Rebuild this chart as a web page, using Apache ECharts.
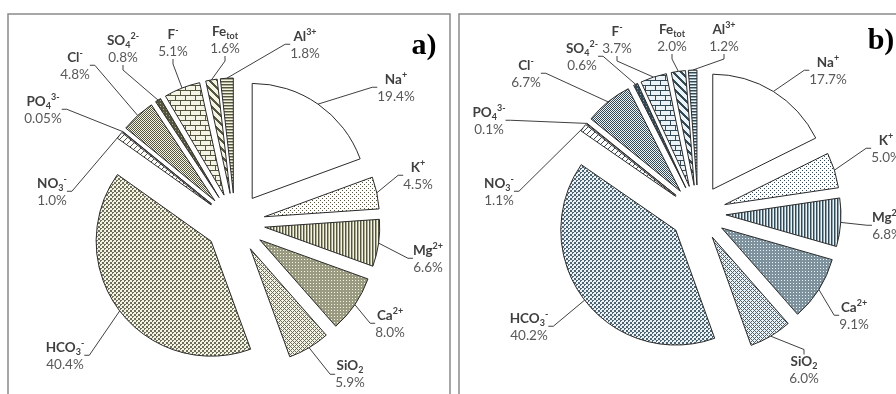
<!DOCTYPE html>
<html>
<head>
<meta charset="utf-8">
<script src="https://cdn.jsdelivr.net/npm/echarts@6/dist/echarts.min.js"></script>
<style>
  html, body { margin: 0; padding: 0; background: #ffffff; }
  #chart { width: 896px; height: 394px; }
</style>
</head>
<body>
<div id="chart"></div>
<script>
// Ionic composition (% of total dissolved load) for the two waters
const ions = ['Na⁺', 'K⁺', 'Mg²⁺', 'Ca²⁺', 'SiO₂', 'HCO₃⁻', 'NO₃⁻', 'PO₄³⁻', 'Cl⁻', 'SO₄²⁻', 'F⁻', 'Feₜₒₜ', 'Al³⁺'];
const sharesA = [19.4, 4.5, 6.6, 8.0, 5.9, 40.4, 1.0, 0.05, 4.8, 0.8, 5.1, 1.6, 1.8];
const sharesB = [17.7, 5.0, 6.8, 9.1, 6.0, 40.2, 1.1, 0.1, 6.7, 0.6, 3.7, 2.0, 1.2];
const panelTags = ['a)', 'b)'];

// Fill texture used for each ion (same order as ions)
const textures = ['blank', 'dots', 'vlines', 'fine', 'diamond', 'weave', 'sparse', 'sparse', 'check', 'dark', 'brick', 'diag', 'hlines'];

// Label anchor points (centre of the two-line label) for each panel
const labelPosA = [[396, 88], [418, 176], [428, 259], [390, 324], [350, 374], [65, 356], [52, 192], [43, 110], [75, 66], [123, 49], [173, 43], [225, 40], [305, 45]];
const labelPosB = [[828, 71], [886, 149], [887, 226], [854, 316], [804, 370], [529, 327], [499, 192], [489, 121], [526, 74], [582, 57], [617, 40], [672, 38], [724, 38]];

const palettes = [
  { bg: '#f4f4e6', fg: '#56563f', soft: '#6e6e58', mid: '#acac92', fill: '#9a9a80' },
  { bg: '#ecf3f7', fg: '#334956', soft: '#4d6370', mid: '#90a4ae', fill: '#7d929d' }
];

function makeTile(kind, pal) {
  const sizes = { blank: [2, 2], dots: [4, 4], vlines: [3, 1], fine: [3, 3], diamond: [4, 4], weave: [4, 4],
                  sparse: [6, 6], check: [2, 2], dark: [3, 3], brick: [10, 10], diag: [8, 8], hlines: [1, 3] };
  const [w, h] = sizes[kind];
  const cv = document.createElement('canvas');
  cv.width = w; cv.height = h;
  const g = cv.getContext('2d');
  const px = (x, y, col) => { g.fillStyle = col; g.fillRect(x, y, 1, 1); };
  const fill = (col) => { g.fillStyle = col; g.fillRect(0, 0, w, h); };
  switch (kind) {
    case 'blank': fill('#ffffff'); break;
    case 'dots': fill('#ffffff'); px(0, 0, pal.fg); px(2, 2, pal.fg); break;
    case 'vlines': px(0, 0, pal.fg); px(1, 0, pal.mid); px(2, 0, pal.bg); break;
    case 'hlines': px(0, 0, pal.fg); px(0, 1, pal.mid); px(0, 2, pal.bg); break;
    case 'fine': fill(pal.fill); px(1, 1, pal.bg); break;
    case 'dark': fill(pal.fg); px(1, 1, pal.mid); break;
    case 'diamond':
      fill(pal.bg);
      for (let y = 0; y < 4; y++) for (let x = 0; x < 4; x++)
        if ((x + y) % 4 === 0 || (x - y + 4) % 4 === 0) px(x, y, pal.soft);
      break;
    case 'weave':
      fill(pal.bg);
      for (let y = 0; y < 4; y++) for (let x = 0; x < 4; x++)
        if (((x >> 1) + (y >> 1)) % 2 === 0 && !(x === 1 && y === 1) ) px(x, y, pal.soft);
      break;
    case 'check': fill(pal.bg); px(0, 0, pal.fg); px(1, 1, pal.fg); break;
    case 'sparse':
      fill('#ffffff');
      for (let i = 0; i < 6; i++) px(i, (6 - i) % 6, pal.fg);
      break;
    case 'brick':
      fill(pal.bg);
      g.fillStyle = pal.fg;
      g.fillRect(0, 0, 10, 1); g.fillRect(0, 5, 10, 1);
      g.fillRect(0, 0, 1, 5); g.fillRect(5, 5, 1, 5);
      break;
    case 'diag':
      fill(pal.bg);
      for (let y = 0; y < 8; y++) for (let x = 0; x < 8; x++)
        if ((((x - y) % 8) + 8) % 8 < 3) px(x, y, pal.fg);
      break;
  }
  return cv;
}

const FONT = 'Lato, "Open Sans", sans-serif';
const SUP = { '⁺': '+', '⁻': '-', '²': '2', '³': '3' };
const SUB = { '₂': '2', '₃': '3', '₄': '4', 'ₜ': 't', 'ₒ': 'o' };

// Turn the Unicode super/subscript characters of an ion name into rich-text runs
function richName(s) {
  let out = '', cur = null, buf = '';
  for (const ch of s) {
    const st = SUP[ch] ? 'sup' : (SUB[ch] ? 'sub' : 'n');
    const c = SUP[ch] || SUB[ch] || ch;
    if (st !== cur) { if (buf) out += '{' + cur + '|' + buf + '}'; cur = st; buf = ''; }
    buf += c;
  }
  if (buf) out += '{' + cur + '|' + buf + '}';
  return out;
}

function fmtShare(v) { return v < 0.1 ? v.toFixed(2) : v.toFixed(1); }

const rich = {
  n:   { fontFamily: FONT, fontWeight: 'bold', fontSize: 13.5, color: '#3f3f3f', lineHeight: 18 },
  sup: { fontFamily: FONT, fontWeight: 'bold', fontSize: 9, color: '#3f3f3f', lineHeight: 11, verticalAlign: 'top' },
  sub: { fontFamily: FONT, fontWeight: 'bold', fontSize: 9, color: '#3f3f3f', lineHeight: 10, verticalAlign: 'bottom' },
  v:   { fontFamily: FONT, fontSize: 13.5, color: '#595959', lineHeight: 17 }
};

// An exploded pie: every slice is its own pie series holding the full data set,
// with only that slice painted, and its centre pushed out along the slice's mid-angle.
function explodedPie(values, center, radius, offset, pal, labelPos) {
  const total = values.reduce((a, b) => a + b, 0);
  const series = [];
  let cum = 0;
  values.forEach((val, k) => {
    const mid = (cum + val / 2) / total * Math.PI * 2;
    cum += val;
    series.push({
      type: 'pie',
      center: [center[0] + offset * Math.sin(mid), center[1] - offset * Math.cos(mid)],
      radius: radius,
      startAngle: 90,
      clockwise: true,
      avoidLabelOverlap: false,
      silent: true,
      animation: false,
      label: {
        show: true,
        formatter: (p) => richName(p.name) + '\n{v|' + fmtShare(p.value) + '%}',
        rich: rich,
        align: 'center'
      },
      labelLine: { show: true, length: 8, length2: 5, lineStyle: { color: '#404040', width: 1 } },
      labelLayout: (p) => p.dataIndex === k ? {
        x: labelPos[k][0],
        y: labelPos[k][1],
        align: 'center',
        verticalAlign: 'middle'
      } : {},
      data: ions.map((name, i) => i === k ? {
        name: name,
        value: values[i],
        itemStyle: { color: { image: makeTile(textures[i], pal), repeat: 'repeat' }, borderColor: '#2b2b2b', borderWidth: 1 }
      } : {
        name: name,
        value: values[i],
        itemStyle: { color: 'rgba(0,0,0,0)', borderWidth: 0 },
        label: { show: false },
        labelLine: { show: false }
      })
    });
  });
  return series;
}

const chart = echarts.init(document.getElementById('chart'), null, { renderer: 'canvas' });
chart.setOption({
  backgroundColor: '#ffffff',
  animation: false,
  graphic: [
    { type: 'rect', shape: { x: 8, y: 14, width: 442, height: 420 }, style: { fill: 'none', stroke: '#8a8a8a', lineWidth: 1.5 }, z: -1 },
    { type: 'rect', shape: { x: 459, y: 14, width: 460, height: 420 }, style: { fill: 'none', stroke: '#8a8a8a', lineWidth: 1.5 }, z: -1 },
    { type: 'text', x: 424, y: 46, style: { text: panelTags[0], font: 'bold 30px "Liberation Serif", serif', fill: '#000', align: 'center', verticalAlign: 'middle' } },
    { type: 'text', x: 881, y: 41, style: { text: panelTags[1], font: 'bold 30px "Liberation Serif", serif', fill: '#000', align: 'center', verticalAlign: 'middle' } }
  ],
  series: [].concat(
    explodedPie(sharesA, [235, 223], 115, 30, palettes[0], labelPosA),
    explodedPie(sharesB, [698, 213], 115, 28, palettes[1], labelPosB)
  )
});
</script>
</body>
</html>
